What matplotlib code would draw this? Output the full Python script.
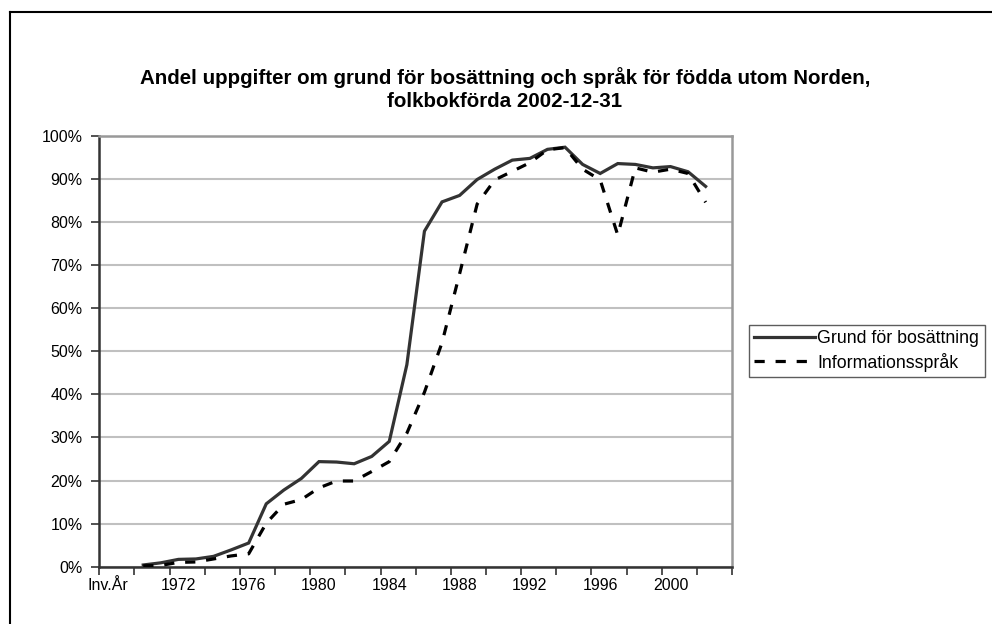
import numpy as np
import matplotlib
matplotlib.use("Agg")
import matplotlib.pyplot as plt
from matplotlib.lines import Line2D

plt.rcParams['font.family'] = ['Liberation Sans', 'DejaVu Sans']

# categories: "Inv.År" followed by years 1969-2003
years = list(range(1969, 2004))
categories = ["Inv.År"] + [str(y) for y in years]
tick_labels = ["Inv.År", "1972", "1976", "1980", "1984", "1988", "1992", "1996", "2000"]

nan = np.nan
# share (%) with reported ground for settlement
grund = [nan, nan,
         0.4, 0.9, 1.7, 1.8, 2.4, 3.9, 5.5, 14.6, 17.8, 20.5,
         24.4, 24.3, 23.9, 25.6, 29.1, 46.9, 77.9, 84.7, 86.2, 89.9,
         92.3, 94.4, 94.8, 96.9, 97.4, 93.4, 91.3, 93.6, 93.4, 92.6,
         92.9, 91.7, 88.3, nan]
# share (%) with reported information language
sprak = [nan, nan,
         0.2, 0.3, 1.0, 1.1, 1.8, 2.5, 3.0, 10.1, 14.5, 15.6,
         18.3, 19.9, 19.9, 22.1, 24.4, 31.0, 40.5, 52.0, 68.0, 84.2,
         89.8, 91.8, 93.8, 96.8, 97.3, 92.3, 89.8, 77.0, 92.6, 91.6,
         92.3, 91.3, 84.6, nan]

x = np.arange(len(categories)) + 0.5

fig = plt.figure(figsize=(9.92, 6.24), dpi=100)
ax = fig.add_axes([99.3 / 992, 1 - 566.7 / 624, (732 - 99.3) / 992, (566.7 - 136) / 624])

ax.plot(x, grund, color="#333333", lw=2.3, solid_joinstyle="miter",
        label="Grund för bosättning", zorder=3)
ax.plot(x, sprak, color="black", lw=2.3, dashes=(3.2, 3.4),
        label="Informationsspråk", zorder=4)

ax.set_xlim(0, len(categories))
ax.set_ylim(0, 100)

# y axis
ax.set_yticks(np.arange(0, 101, 10))
ax.set_yticklabels([f"{v}%" for v in range(0, 101, 10)], fontsize=11.5)
ax.yaxis.grid(True, color="#c0c0c0", lw=1.5)
ax.set_axisbelow(True)
ax.tick_params(axis="y", direction="out", length=6, width=1.2, color="#333333", pad=6)

# x axis: tick marks between categories every 2, labels every 4 categories
ax.set_xticks(np.arange(0, len(categories) + 1, 2))
ax.set_xticklabels([])
ax.set_xticks([categories.index(t) + 0.5 for t in tick_labels], minor=True)
ax.set_xticklabels(tick_labels, minor=True, fontsize=11.5)
ax.tick_params(axis="x", which="major", direction="out", length=6, width=1.2, color="#333333")
ax.tick_params(axis="x", which="minor", length=0, pad=8)

for s in ["left", "bottom"]:
    ax.spines[s].set_color("#333333")
    ax.spines[s].set_linewidth(1.8)
for s in ["top", "right"]:
    ax.spines[s].set_color("#999999")
    ax.spines[s].set_linewidth(1.8)

# title
fig.text(505 / 992, 1 - 89 / 624,
         "Andel uppgifter om grund för bosättning och språk för födda utom Norden,\nfolkbokförda 2002-12-31",
         ha="center", va="center", fontsize=14.8, fontweight="bold", linespacing=1.22)

# legend
leg = fig.legend(loc="upper left", bbox_to_anchor=(749 / 992, 1 - 325 / 624),
                 fontsize=12.8, frameon=True, fancybox=False, edgecolor="#333333",
                 handlelength=3.4, handletextpad=0.15, borderpad=0.3,
                 labelspacing=0.3, borderaxespad=0)
leg.get_frame().set_linewidth(1.0)

# outer chart border (only left/top visible in crop)
fig.add_artist(Line2D([10 / 992, 10 / 992], [0, 1 - 12 / 624], transform=fig.transFigure,
                      color="black", lw=1.5))
fig.add_artist(Line2D([10 / 992, 1], [1 - 12 / 624, 1 - 12 / 624], transform=fig.transFigure,
                      color="black", lw=1.5))

fig.savefig("out.png", dpi=100)
